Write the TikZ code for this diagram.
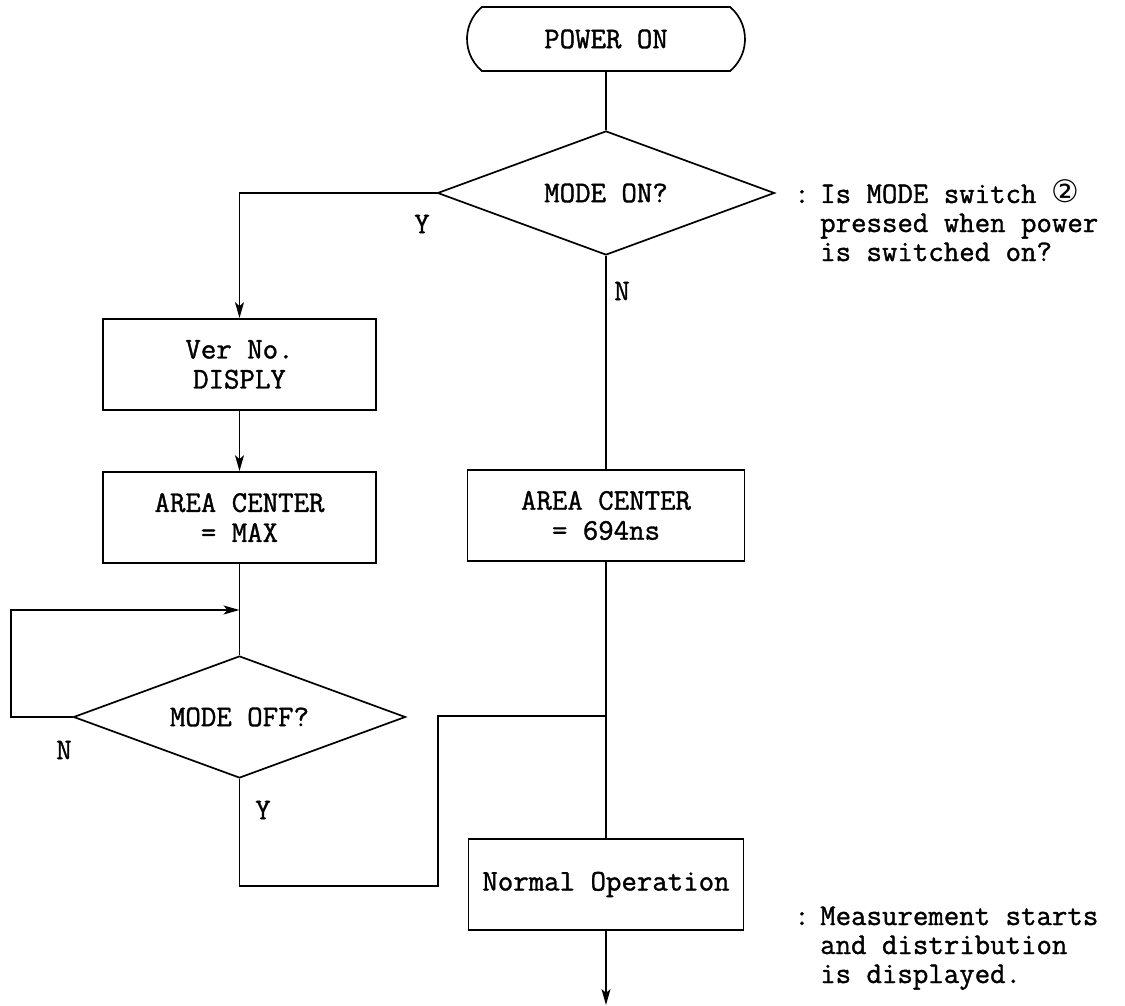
\documentclass[tikz,border=0pt]{standalone}
\usepackage{fontspec}
\usetikzlibrary{shapes.geometric,shapes.misc,arrows.meta}
\newfontfamily\mono{Latin Modern Mono}[FakeBold=1.2]
\newfontfamily\symfont{DejaVu Sans}

\tikzset{
  flow/.style={line width=1.7pt},
  arr/.style={flow,-{Stealth[length=16pt,width=9pt,inset=4pt]}},
  txt/.style={font=\mono\fontsize{30}{30}\selectfont},
  procbox/.style={flow,draw,rectangle,txt,align=center,inner sep=0pt},
  decide/.style={flow,draw,diamond,aspect=2.7,txt,inner sep=0pt},
  termbox/.style={flow,draw,rounded rectangle,rounded rectangle arc length=100,txt,inner sep=0pt},
  lbl/.style={txt,inner sep=0pt},
  note/.style={txt,inner sep=0pt,anchor=base west}
}

\begin{document}
\begin{tikzpicture}[x=1pt,y=-1pt]
\useasboundingbox (0,0) rectangle (1125,1006);

% main blocks
\node[termbox,minimum width=278,minimum height=64] (power) at (606,39) {POWER ON};
\node[decide,minimum width=337,minimum height=124] (modeon) at (606,193) {MODE ON?};
\node[procbox,minimum width=273,minimum height=91] (verno) at (239.5,364.5) {Ver No.\\DISPLY};
\node[procbox,minimum width=273,minimum height=91] (amax) at (239.5,517.5) {AREA CENTER\\= MAX};
\node[procbox,minimum width=277,minimum height=91] (a694) at (606,515.5) {AREA CENTER\\= 694ns};
\node[decide,minimum width=332,minimum height=122] (modeoff) at (239.5,717) {MODE OFF?};
\node[procbox,minimum width=275,minimum height=91] (normal) at (606,884.5) {Normal Operation};

% routing points
\coordinate (loopcorner) at (11,610);
\coordinate (loopin) at (239.5,610);
\coordinate (yturn) at (438,886);
\coordinate (join) at (606,716);
\coordinate (endpt) at (606,1005);

% connectors
\draw[flow] (power) -- (modeon);
\draw[arr] (modeon.west) -| (verno.north);
\draw[arr] (verno) -- (amax);
\draw[flow] (amax) -- (modeoff);
\draw[arr] (modeoff.west) -| (loopcorner) -- (loopin);
\draw[flow] (modeoff.south) |- (yturn) |- (join);
\draw[flow] (modeon.south) -- (a694);
\draw[flow] (a694) -- (normal);
\draw[arr] (normal.south) -- (endpt);

% branch labels
\node[lbl] (y1) at (422,224) {Y};
\node[lbl] (n1) at (622,291) {N};
\node[lbl] (n2) at (64,750) {N};
\node[lbl] (y2) at (263,810) {Y};

% side notes
\node[note] (c1) at (794,203) {:};
\node[note] (c1a) at (820,203) {Is MODE switch {\symfont\fontsize{31}{30}\selectfont ②}};
\node[note] (c1b) at (820,232) {pressed when power};
\node[note] (c1c) at (820,261) {is switched on?};

\node[note] (c2) at (794,925) {:};
\node[note] (c2a) at (820,925) {Measurement starts};
\node[note] (c2b) at (820,954) {and distribution};
\node[note] (c2c) at (820,983) {is displayed.};
\end{tikzpicture}
\end{document}
